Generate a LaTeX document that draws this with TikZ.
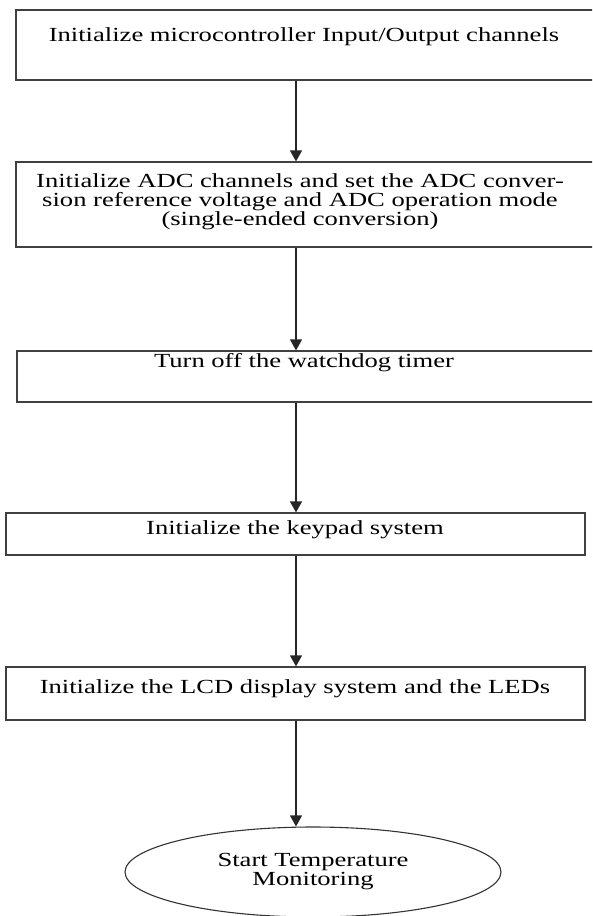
\documentclass[tikz,border=0pt]{standalone}
\usepackage{fontspec}
\setmainfont[FakeStretch=1.33]{Liberation Serif}
\usetikzlibrary{arrows.meta,shapes.geometric}
\begin{document}
\begin{tikzpicture}[x=1pt,y=-1pt,
  stepbox/.style={draw=black!75,line width=1.2pt,rectangle,inner sep=0pt},
  txt/.style={inner sep=0pt,align=center,font=\fontsize{20}{19}\selectfont},
  endbox/.style={draw=black!80,line width=1.1pt,ellipse,inner sep=0pt,minimum width=376pt,minimum height=90pt},
  arr/.style={draw=black!85,line width=1.2pt,-{Triangle[width=12pt,length=11pt]}}]
\useasboundingbox (0,0) rectangle (592,916);
\clip (0,0) rectangle (592,916);
\coordinate (ax) at (296,0);
% boxes
\node[stepbox,minimum width=580pt,minimum height=70pt] (b1) at (306,45) {};
\node[stepbox,minimum width=580pt,minimum height=85pt] (b2) at (306,204.5) {};
\node[stepbox,minimum width=578pt,minimum height=51pt] (b3) at (306,376.5) {};
\node[stepbox,minimum width=579pt,minimum height=42pt] (b4) at (295.5,534) {};
\node[stepbox,minimum width=579pt,minimum height=53pt] (b5) at (295.5,693.5) {};
\node[endbox] (e1) at (313,872) {};
% texts
\node[txt,anchor=base] (t1) at (304,41) {Initialize microcontroller Input/Output channels};
\node[txt,anchor=north] (t2) at (300,173) {Initialize ADC channels and set the ADC conver-\\sion reference voltage and ADC operation mode\\(single-ended conversion)};
\node[txt,anchor=base] (t3) at (304,367) {Turn off the watchdog timer};
\node[txt,anchor=base] (t4) at (295,534) {Initialize the keypad system};
\node[txt,anchor=base] (t5) at (295,693) {Initialize the LCD display system and the LEDs};
\node[txt] (t6) at (e1.center) {Start Temperature\\Monitoring};
% connectors
\draw[arr] (ax |- b1.south) -- (ax |- b2.north);
\draw[arr] (ax |- b2.south) -- (ax |- b3.north);
\draw[arr] (ax |- b3.south) -- (ax |- b4.north);
\draw[arr] (ax |- b4.south) -- (ax |- b5.north);
\draw[arr] (ax |- b5.south) -- (ax |- e1.north);
\end{tikzpicture}
\end{document}
